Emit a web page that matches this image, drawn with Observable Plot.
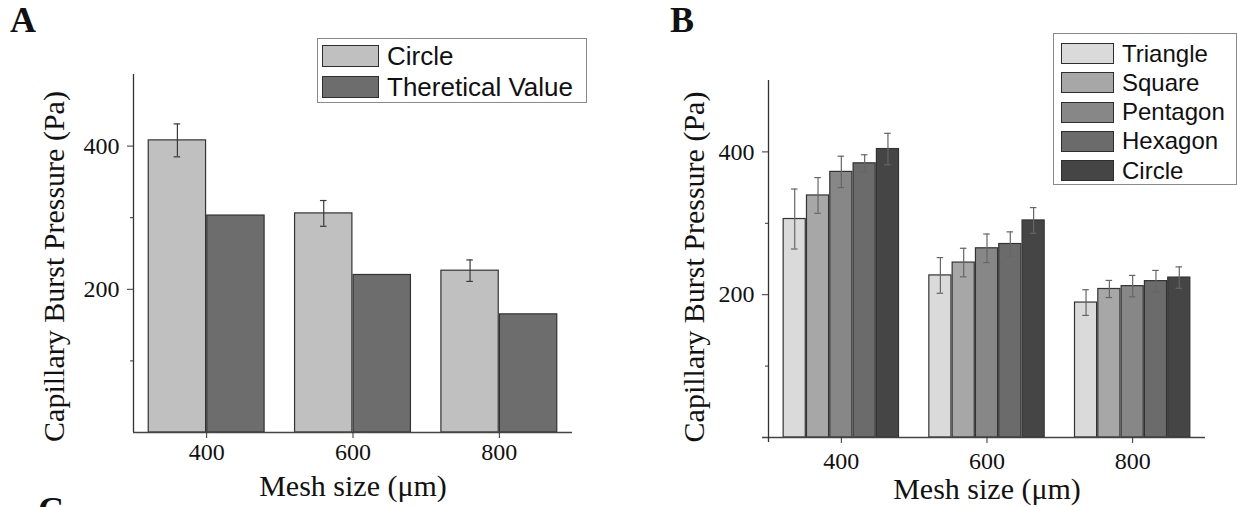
<!DOCTYPE html>
<html><head><meta charset="utf-8">
<script src="https://cdn.jsdelivr.net/npm/d3@7"></script>
<script src="https://cdn.jsdelivr.net/npm/@observablehq/plot@0.6"></script>
<style>
html,body{margin:0;padding:0;background:#fff;}
body{width:1237px;height:507px;position:relative;overflow:hidden;font-family:"Liberation Serif","Times New Roman",serif;}
.panel{position:absolute;top:0;}
.letter{position:absolute;font:bold 36px/36px "Liberation Serif","Times New Roman",serif;color:#111;}
.legend{position:absolute;border:1.2px solid #8a8a8a;background:#fff;box-sizing:border-box;font-family:"Liberation Sans",Arial,sans-serif;color:#111;}
.legend .row{position:absolute;display:flex;align-items:center;white-space:nowrap;}
.legend .sw{box-sizing:border-box;border:1.6px solid #2e2e2e;flex:none;}
.legend .lab{line-height:1;}
</style></head><body>
<div id="A" class="panel" style="left:0"></div>
<div id="B" class="panel" style="left:620px"></div>
<div class="letter" style="left:10px;top:2px">A</div>
<div class="letter" style="left:670px;top:2px">B</div>
<div class="letter" style="left:38px;top:492px">C</div>
<script>
// ---------- data ----------
const meshSizes = [400, 600, 800];
const xTicks = [400, 600, 800];
const yTicks = [200, 400];
const yMinorTicks = [100, 300];
const xLabel = "Mesh size (μm)";
const yLabel = "Capillary Burst Pressure (Pa)";

// Panel A
const seriesA = ["Circle", "Theretical Value"];
const circleA = [408, 306, 226];
const circleAErr = [23, 18, 15];
const theoreticalA = [303, 220, 165];

// Panel B
const seriesB = ["Triangle", "Square", "Pentagon", "Hexagon", "Circle"];
const triangleB = [306, 227, 189];
const triangleBErr = [42, 25, 18];
const squareB = [339, 245, 208];
const squareBErr = [25, 20, 12];
const pentagonB = [372, 265, 212];
const pentagonBErr = [22, 20, 15];
const hexagonB = [384, 271, 219];
const hexagonBErr = [12, 17, 15];
const circleB = [404, 304, 224];
const circleBErr = [22, 18, 15];

// ---------- styles ----------
const colorsA = ["#c0c0c0", "#6d6d6d"];
const colorsB = ["#dadada", "#a7a7a7", "#878787", "#6b6b6b", "#454545"];

// ---------- tables ----------
const rowsA = meshSizes.flatMap((mesh, i) => [
  {mesh, series: seriesA[0], k: 0, n: 2, value: circleA[i], err: circleAErr[i]},
  {mesh, series: seriesA[1], k: 1, n: 2, value: theoreticalA[i], err: 0}
]);
const valsB = [triangleB, squareB, pentagonB, hexagonB, circleB];
const errsB = [triangleBErr, squareBErr, pentagonBErr, hexagonBErr, circleBErr];
const rowsB = meshSizes.flatMap((mesh, i) =>
  seriesB.map((s, k) => ({mesh, series: s, k, n: seriesB.length, value: valsB[k][i], err: errsB[k][i]}))
);

const groupSpan = 160; // mesh-size units covered by one group of bars
const capHalf = 4.5;
const left = d => d.mesh - groupSpan / 2 + d.k * groupSpan / d.n;
const right = d => left(d) + groupSpan / d.n;
const mid = d => left(d) + groupSpan / d.n / 2;

function panel(rows, series, colors, o) {
  const withErr = rows.filter(d => d.err > 0);
  return Plot.plot({
    width: o.width, height: 507,
    marginLeft: o.ml, marginRight: o.mr, marginTop: o.mt, marginBottom: o.mb,
    style: {fontFamily: "'Liberation Serif','Times New Roman',serif", color: "#111", background: "transparent", overflow: "visible"},
    x: {type: "linear", domain: [300, 900], axis: null},
    y: {domain: [0, 500], axis: null},
    color: {domain: series, range: colors},
    marks: [
      Plot.rect(rows, {x1: left, x2: right, y1: 0, y2: "value", fill: "series", stroke: "#333", strokeWidth: 1.2, insetLeft: 0.6, insetRight: 0.6}),
      Plot.ruleX(withErr, {x: mid, y1: d => d.value - d.err, y2: d => d.value + d.err, stroke: o.errColor, strokeWidth: 1.2}),
      Plot.ruleY(withErr, {y: d => d.value + d.err, x1: d => mid(d) - capHalf, x2: d => mid(d) + capHalf, stroke: o.errColor, strokeWidth: 1.2}),
      Plot.ruleY(withErr, {y: d => d.value - d.err, x1: d => mid(d) - capHalf, x2: d => mid(d) + capHalf, stroke: o.errColor, strokeWidth: 1.2}),
      Plot.ruleY([0], {stroke: "#444", strokeWidth: 1.3, insetLeft: o.xLineExt}),
      Plot.ruleX([300], {stroke: "#333", strokeWidth: 1.3, insetBottom: o.yLineExt}),
      Plot.axisY({ticks: yTicks, tickSize: 6, tickPadding: 8, fontSize: 24, tickFormat: d3.format("d"), label: null, stroke: "#333"}),
      Plot.axisY({ticks: yMinorTicks, tickSize: 3, tickFormat: () => "", label: null, stroke: "#333"}),
      Plot.axisX({ticks: xTicks, tickSize: 6, tickPadding: o.xPad, fontSize: 24, tickFormat: d3.format("d"), label: null, stroke: "#333"}),
      Plot.text([xLabel], {frameAnchor: "bottom", dy: o.xLabDy, lineAnchor: "middle", fontSize: 30, fill: "#111"}),
      Plot.text([yLabel], {frameAnchor: "left", rotate: -90, dx: o.yLabDx, dy: o.yLabDy, lineAnchor: "middle", textAnchor: "middle", fontSize: 30, fill: "#111"})
    ]
  });
}

function legend(chart, L) {
  const sc = chart.scale("color");
  const box = document.createElement("div");
  box.className = "legend";
  Object.assign(box.style, {left: L.left + "px", top: L.top + "px", width: L.w + "px", height: L.h + "px"});
  sc.domain.forEach((name, i) => {
    const row = document.createElement("div");
    row.className = "row";
    Object.assign(row.style, {left: L.swLeft + "px", top: (L.first + i * L.pitch) + "px", height: L.swH + "px"});
    const sw = document.createElement("div");
    sw.className = "sw";
    Object.assign(sw.style, {width: L.swW + "px", height: L.swH + "px", background: sc.range[i]});
    const lab = document.createElement("span");
    lab.className = "lab";
    lab.textContent = name;
    Object.assign(lab.style, {fontSize: L.fs + "px", marginLeft: L.gap + "px"});
    row.append(sw, lab);
    box.append(row);
  });
  document.body.append(box);
}

const chartA = panel(rowsA, seriesA, colorsA, {
  width: 620, ml: 133, mr: 48, mt: 74, mb: 75, errColor: "#3a3a3a",
  xLineExt: 0, yLineExt: 0, xPad: 4, xLabDy: 54, yLabDx: -79, yLabDy: 13
});
document.getElementById("A").append(chartA);

const chartB = panel(rowsB, seriesB, colorsB, {
  width: 617, ml: 148, mr: 32, mt: 80, mb: 70, errColor: "#666",
  xLineExt: -6, yLineExt: -5, xPad: 8, xLabDy: 52, yLabDx: -74, yLabDy: 8
});
document.getElementById("B").append(chartB);

legend(chartA, {left: 317, top: 38, w: 270, h: 65, swLeft: 4, first: 6, pitch: 31, swW: 57, swH: 22, fs: 26, gap: 8});
legend(chartB, {left: 1053, top: 33, w: 184, h: 152, swLeft: 7, first: 9, pitch: 29.3, swW: 53, swH: 21, fs: 24, gap: 8});
</script>
</body></html>
